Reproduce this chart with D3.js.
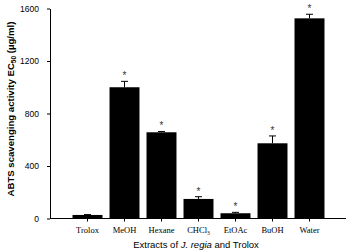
<!DOCTYPE html>
<html><head><meta charset="utf-8">
<script src="https://cdn.jsdelivr.net/npm/d3@7/dist/d3.min.js"></script>
<style>body{margin:0;background:#fff}svg{display:block}</style>
</head><body>
<svg id="c" width="352" height="250"></svg>
<script>
const categories = ["Trolox","MeOH","Hexane","CHCl3","EtOAc","BuOH","Water"];
const values = [27, 1000, 657, 149, 40, 573, 1525];
const errors = [3, 45, 6, 17, 7, 56, 31];
const significant = [false, true, true, true, true, true, true];
const yTicks = [0, 400, 800, 1200, 1600];

const svg = d3.select("#c");
const y = d3.scaleLinear().domain([0,1600]).range([218.5, 8.5]);
const x = d3.scaleBand().domain(categories).range([69, 328]).paddingInner(0.19).paddingOuter(0.095);

// y axis
const ya = d3.axisLeft(y).tickValues(yTicks).tickFormat(d3.format("d")).tickSize(3).tickPadding(8).tickSizeOuter(0);
const gy = svg.append("g").attr("transform","translate(50,0)").call(ya);
gy.select(".domain").attr("stroke","#000").attr("stroke-width",1);
gy.selectAll(".tick line").attr("stroke","#000");
gy.selectAll("text").attr("font-family","'Liberation Sans', Arial, sans-serif").attr("font-size","8.5px").attr("fill","#000");

// x axis line
svg.append("line").attr("x1",50).attr("x2",346).attr("y1",y(0)).attr("y2",y(0)).attr("stroke","#000").attr("stroke-width",1);
// x ticks
const xa = d3.axisBottom(x).tickSize(3).tickPadding(4).tickSizeOuter(0).tickFormat(()=> "");
const gx = svg.append("g").attr("transform",`translate(0,${y(0)})`).call(xa);
gx.select(".domain").remove();
gx.selectAll(".tick line").attr("stroke","#000");
gx.selectAll(".tick").each(function(d){
  const t = d3.select(this).append("text").attr("y",14).attr("text-anchor","middle")
    .attr("font-family","'Liberation Serif', 'Times New Roman', serif").attr("font-size","8.5px").attr("fill","#000");
  if(d==="CHCl3"){ t.text("CHCl"); t.append("tspan").attr("font-size","5.5px").attr("dy","2").text("3"); }
  else t.text(d);
});

// bars
svg.selectAll("rect.bar").data(categories).enter().append("rect")
  .attr("x",d=>x(d)).attr("width",x.bandwidth())
  .attr("y",(d,i)=>y(values[i])).attr("height",(d,i)=>y(0)-y(values[i]))
  .attr("fill","#000");

// error bars
categories.forEach((c,i)=>{
  const cx = x(c)+x.bandwidth()/2;
  svg.append("line").attr("x1",cx).attr("x2",cx).attr("y1",y(values[i])).attr("y2",y(values[i]+errors[i])).attr("stroke","#000").attr("stroke-width",1);
  svg.append("line").attr("x1",cx-3.5).attr("x2",cx+3.5).attr("y1",y(values[i]+errors[i])).attr("y2",y(values[i]+errors[i])).attr("stroke","#000").attr("stroke-width",1);
  if(significant[i]){
    svg.append("text").attr("x",cx).attr("y",y(values[i]+errors[i])-2).attr("text-anchor","middle")
      .attr("font-family","'Liberation Sans', Arial, sans-serif").attr("font-size","10px").attr("fill","#333").text("*");
  }
});

// y title
const yt = svg.append("text").attr("transform","translate(14,109) rotate(-90)").attr("text-anchor","middle")
  .attr("font-family","'Liberation Sans', Arial, sans-serif").attr("font-size","9.6px").attr("font-weight","bold").attr("fill","#000");
yt.append("tspan").text("ABTS scavenging activity EC");
yt.append("tspan").attr("font-size","6.5px").attr("dy","2").text("50");
yt.append("tspan").attr("dy","-2").text(" (µg/ml)");

// x title
const xt = svg.append("text").attr("x",196).attr("y",248).attr("text-anchor","middle")
  .attr("font-family","'Liberation Sans', Arial, sans-serif").attr("font-size","9.5px").attr("fill","#000");
xt.append("tspan").text("Extracts  of  ");
xt.append("tspan").attr("font-style","italic").text("J. regia");
xt.append("tspan").text(" and Trolox");
</script>
</body></html>
